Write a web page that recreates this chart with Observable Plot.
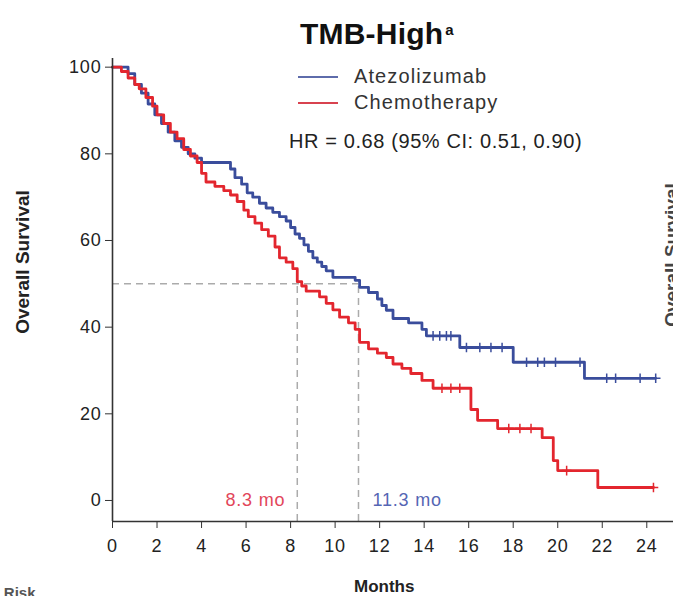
<!DOCTYPE html>
<html>
<head>
<meta charset="utf-8">
<script src="https://cdn.jsdelivr.net/npm/d3@7"></script>
<script src="https://cdn.jsdelivr.net/npm/@observablehq/plot@0.6"></script>
<style>
  html, body { margin: 0; padding: 0; background: #fff; }
  #wrap { position: relative; width: 673px; height: 596px; overflow: hidden; font-family: "Liberation Sans", Arial, Helvetica, sans-serif; color: #222; }
  #wrap svg { position: absolute; left: 0; top: 0; }
  .ov { position: absolute; white-space: nowrap; }
  .leg { height: 26px; line-height: 26px; }
  .sw { display: inline-block; width: 40px; height: 0; vertical-align: middle; margin-right: 16px; position: relative; top: -1px; }
</style>
</head>
<body>
<div id="wrap">
  <div class="ov" id="title" style="left:300px; top:17px; font-size:30px; font-weight:bold; color:#111; letter-spacing:0.2px;">TMB-High<span style="font-size:15px; vertical-align:top; position:relative; top:4px; margin-left:2px;">a</span></div>
  <div class="ov" style="left:298px; top:63px; font-size:20px; color:#333; letter-spacing:1.1px;">
    <div class="leg"><span class="sw" style="border-top:2px solid #5e6cab;"></span>Atezolizumab</div>
    <div class="leg"><span class="sw" style="border-top:2px solid #d8424f;"></span>Chemotherapy</div>
  </div>
  <div class="ov" style="left:289px; top:130px; font-size:20px; color:#222; letter-spacing:0.6px;">HR = 0.68 (95% CI: 0.51, 0.90)</div>
  <div class="ov" style="left:354px; top:577px; font-size:17px; font-weight:bold; color:#222;">Months</div>
  <div class="ov" style="left:23px; top:262px; font-size:19px; font-weight:bold; color:#222; transform: translate(-50%,-50%) rotate(-90deg);">Overall Survival</div>
  <div class="ov" style="left:672px; top:255px; font-size:19px; font-weight:bold; color:#444; transform: translate(-50%,-50%) rotate(-90deg);">Overall Survival</div>
  <div class="ov" style="left:-42px; top:584px; font-size:15px; font-weight:bold; color:#555;">No. at Risk</div>
</div>
<script>
// ---- data ----
const xTicks = [0, 2, 4, 6, 8, 10, 12, 14, 16, 18, 20, 22, 24];
const yTicks = [0, 20, 40, 60, 80, 100];

const atezoTime = [0, 0.7, 1.0, 1.3, 1.6, 1.9, 2.2, 2.5, 2.8, 3.1, 3.4, 3.7, 4.0, 5.3, 5.5, 5.8, 6.05, 6.3, 6.6, 6.9, 7.2, 7.5, 7.8, 8.0, 8.2, 8.4, 8.6, 8.8, 9.0, 9.2, 9.4, 9.6, 9.9, 10.9, 11.1, 11.5, 11.9, 12.1, 12.3, 12.6, 13.3, 13.9, 14.1, 15.6, 18.0, 21.2, 24.4];
const atezoSurv = [100, 98.5, 96, 94, 91.5, 89, 87, 85, 83, 81.5, 80, 79, 78, 76.5, 74.5, 73, 71, 70, 68.6, 67.5, 66.5, 65.5, 64.5, 63, 61.5, 60.5, 59, 57.5, 56, 55, 54, 53, 51.5, 50.8, 49.2, 48, 46.5, 45, 43.9, 42, 41, 39.5, 38, 35.3, 31.9, 28.2, 28.2];
const atezoCensor = [14.4, 14.7, 15.0, 15.2, 15.9, 16.5, 17.0, 17.5, 18.6, 19.1, 19.4, 19.9, 21.0, 22.2, 22.6, 23.7, 24.4];

const chemoTime = [0, 0.4, 0.7, 1.0, 1.2, 1.5, 1.8, 2.0, 2.3, 2.6, 2.9, 3.2, 3.5, 3.8, 4.0, 4.2, 4.6, 5.0, 5.3, 5.6, 5.9, 6.1, 6.4, 6.7, 7.0, 7.3, 7.5, 7.8, 8.1, 8.3, 8.5, 8.7, 9.3, 9.6, 9.9, 10.2, 10.6, 10.9, 11.1, 11.5, 11.9, 12.3, 12.6, 13.0, 13.4, 13.9, 14.4, 16.1, 16.4, 17.3, 19.3, 19.8, 20.0, 21.8, 24.3];
const chemoSurv = [100, 99, 97.5, 96, 95, 93, 91, 89, 87, 85, 83.5, 81, 79.5, 78, 75.5, 73.5, 72.5, 71.5, 70.5, 69, 67, 65.5, 64, 62.5, 61, 58.5, 56, 55, 53.5, 50.5, 49.5, 48.3, 47, 45.5, 44, 42.3, 41, 39.5, 36.5, 35, 34, 33, 31.5, 30.5, 29.3, 27.7, 25.9, 21, 18.5, 16.6, 14.5, 9.2, 6.9, 3.0, 3.0];
const chemoCensor = [14.8, 15.2, 15.6, 17.8, 18.3, 18.8, 20.4, 24.3];

const arms = ["Atezolizumab", "Chemotherapy"];
const armColors = ["#3a4d9c", "#e3262e"];
const medianLabels = ["11.3 mo", "8.3 mo"];
const medianLineX = [11.05, 8.3];      // where the dashed guides are drawn in the picture
const medianLabelColors = ["#5566b4", "#e2465a"];
const medianSurvival = 50;

// ---- build tables ----
const curves = [];
atezoTime.forEach((t, i) => curves.push({arm: arms[0], t, s: atezoSurv[i]}));
chemoTime.forEach((t, i) => curves.push({arm: arms[1], t, s: chemoSurv[i]}));

function survAt(times, surv, t) {
  let v = surv[0];
  for (let i = 0; i < times.length; i++) if (times[i] <= t) v = surv[i];
  return v;
}
const censors = [];
atezoCensor.forEach(t => censors.push({arm: arms[0], t, s: survAt(atezoTime, atezoSurv, t)}));
chemoCensor.forEach(t => censors.push({arm: arms[1], t, s: survAt(chemoTime, chemoSurv, t)}));

const medians = arms.map((a, i) => ({arm: a, m: medianLineX[i], label: medianLabels[i], color: medianLabelColors[i]}));

const xDomain = [0, 25.2];
const yDomain = [-4.85, 102];

const chart = Plot.plot({
  width: 673,
  height: 596,
  marginLeft: 112,
  marginRight: 0,
  marginTop: 58,
  marginBottom: 75,
  style: {fontFamily: "'Liberation Sans', Arial, sans-serif", fontSize: "18px", color: "#222", background: "transparent", overflow: "visible", letterSpacing: "0.8px"},
  x: {domain: xDomain},
  y: {domain: yDomain},
  color: {domain: arms, range: armColors},
  marks: [
    // median guides
    Plot.ruleY([medianSurvival], {x1: 0, x2: d3.max(medianLineX), stroke: "#ababab", strokeWidth: 1.5, strokeDasharray: "7,5"}),
    Plot.ruleX(medians, {x: "m", y1: yDomain[0], y2: medianSurvival, stroke: "#ababab", strokeWidth: 1.5, strokeDasharray: "7,5"}),
    Plot.text(medians.filter(d => d.arm === "Chemotherapy"), {x: "m", y: 0, text: "label", fill: "color", fontSize: 18, textAnchor: "end", dx: -12}),
    Plot.text(medians.filter(d => d.arm === "Atezolizumab"), {x: "m", y: 0, text: "label", fill: "color", fontSize: 18, textAnchor: "start", dx: 14}),
    // KM curves
    Plot.line(curves, {x: "t", y: "s", z: "arm", stroke: "arm", curve: "step-after", strokeWidth: 2.8}),
    Plot.dot(censors, {x: "t", y: "s", stroke: "arm", symbol: "plus", r: 3.2, strokeWidth: 1.5}),
    // axes
    Plot.ruleX([xDomain[0]], {stroke: "#333", strokeWidth: 1.6}),
    Plot.ruleY([yDomain[0]], {stroke: "#333", strokeWidth: 1.6}),
    Plot.axisY({ticks: yTicks, tickSize: 7, tickPadding: 4, label: null, stroke: "#333"}),
    Plot.axisX({ticks: xTicks, tickSize: 7, tickPadding: 11, label: null, stroke: "#333", anchor: "bottom"})
  ]
});
document.getElementById("wrap").appendChild(chart);
</script>
</body>
</html>
